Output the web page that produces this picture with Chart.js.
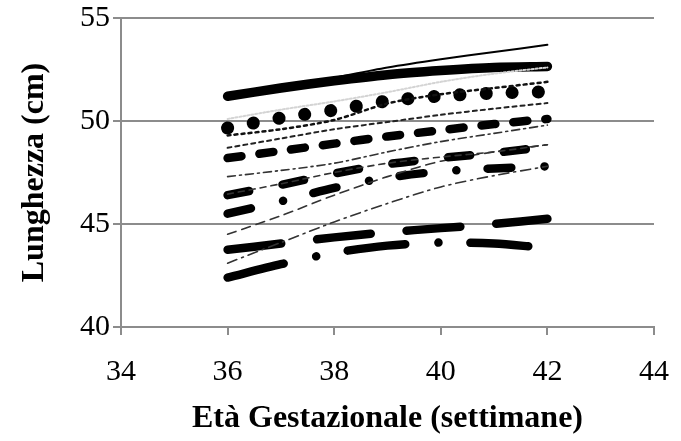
<!DOCTYPE html>
<html>
<head>
<meta charset="utf-8">
<script src="https://cdn.jsdelivr.net/npm/chart.js@4.4.0/dist/chart.umd.min.js"></script>
<style>
	html, body { margin: 0; padding: 0; background: #fff; }
	#wrap { width: 681px; height: 441px; position: relative; }
</style>
</head>
<body>
<div id="wrap"><canvas id="growth-chart"></canvas></div>
<script>
// settimane di gestazione
var weeks = [36, 37, 38, 39, 40, 41, 42];
var weeksShort = [36, 37, 38, 39, 40, 41, 41.8];

// curve di lunghezza (cm), dall'alto in basso
var thinSolid    = [51.1, 51.6, 52.1, 52.6, 53.0, 53.35, 53.7];
var thickSolid   = [51.2, 51.6, 51.95, 52.25, 52.45, 52.6, 52.65];
var faintDotted  = [50.1, 50.55, 50.95, 51.4, 51.9, 52.3, 52.6];
var roundDots    = [49.66, 50.15, 50.53, 50.97, 51.21, 51.35, 51.42];
var smallDotted  = [49.3, 49.6, 50.05, 50.85, 51.3, 51.6, 51.9];
var shortDash    = [48.7, 49.15, 49.6, 49.95, 50.3, 50.6, 50.87];
var thickDash    = [48.2, 48.55, 48.9, 49.25, 49.55, 49.85, 50.1];
var dashDotThin  = [47.3, 47.6, 47.95, 48.5, 49.0, 49.4, 49.8];
var thickDash2   = [46.4, 46.9, 47.45, 47.9, 48.2, 48.45, 48.75];
var thinDash2    = [46.45, 46.95, 47.5, 47.95, 48.25, 48.5, 48.85];
var thickDashDot = [45.5, 46.1, 46.75, 47.25, 47.55, 47.7, 47.8];
var thinDash     = [44.5, 45.4, 46.4, 47.3, 48.05, 48.5, 48.85];
var longDashDot  = [43.1, 44.1, 45.1, 46.0, 46.8, 47.35, 47.8];
var thickLong    = [43.75, 44.05, 44.35, 44.6, 44.8, 45.0, 45.25];
var thickLongDot = [42.4, 43.05, 43.6, 43.95, 44.1, 44.05, 43.88];

function pts(xs, ys) {
	return xs.map(function(x, i) { return { x: x, y: ys[i] }; });
}

function line(xs, ys, width, color, dash) {
	return {
		data: pts(xs, ys),
		borderColor: color,
		borderWidth: width,
		borderDash: dash || [],
		borderCapStyle: 'round',
		borderJoinStyle: 'round',
		pointRadius: 0,
		fill: false,
		tension: 0.3
	};
}

var datasets = [
	line(weeks, faintDotted, 2, '#d4d4d4', [2, 2]),
	line(weeks, thinSolid, 2, '#000', []),
	line(weeks, thickSolid, 9.5, '#000', []),
	line(weeks, smallDotted, 2.5, '#111', [3, 4]),
	line(weeks, roundDots, 13, '#000', [0.1, 26]),
	line(weeks, shortDash, 2, '#222', [4, 4]),
	line(weeks, thickDash, 8.5, '#000', [14, 18]),
	line(weeks, dashDotThin, 1.6, '#333', [8, 4, 2, 4]),
	line(weeks, thinDash2, 1.6, '#333', [6, 5]),
	line(weeks, thickDash2, 8.5, '#000', [22, 34]),
	line(weeks, thinDash, 1.6, '#333', [9, 6]),
	line(weeks, longDashDot, 1.6, '#333', [10, 5, 2, 5]),
	line(weeks, thickDashDot, 8.5, '#000', [24, 33, 0.1, 31]),
	line(weeks, thickLong, 8.5, '#000', [54, 36]),
	line(weeksShort, thickLongDot, 8.5, '#000', [58, 33, 0.1, 32])
];

var axisGrey = '#8c8c8c';
var serif = "'Liberation Serif', 'Times New Roman', serif";

var ctx = document.getElementById('growth-chart').getContext('2d');
var chart = new Chart(ctx, {
	type: 'line',
	data: { datasets: datasets },
	options: {
		responsive: true,
		maintainAspectRatio: false,
		animation: false,
		layout: { padding: { top: 18, right: 27, left: 12, bottom: 0 } },
		plugins: {
			legend: { display: false },
			tooltip: { enabled: false }
		},
		scales: {
			x: {
				type: 'linear',
				min: 34,
				max: 44,
				ticks: {
					stepSize: 2,
					color: '#000',
					padding: 19,
					font: { family: serif, size: 30 }
				},
				grid: {
					drawOnChartArea: false,
					color: axisGrey,
					lineWidth: 2,
					tickLength: 8
				},
				border: { color: axisGrey, width: 2 },
				title: {
					display: true,
					text: 'Età Gestazionale (settimane)',
					color: '#000',
					font: { family: serif, size: 32, weight: 'bold' },
					padding: { top: 0, bottom: 3 }
				},
				afterFit: function(scale) {
					scale.height = 114;
					scale.paddingLeft = 0;
					scale.paddingRight = 0;
				}
			},
			y: {
				min: 40,
				max: 55,
				ticks: {
					stepSize: 5,
					color: '#000',
					padding: 3,
					font: { family: serif, size: 30 }
				},
				grid: {
					color: axisGrey,
					lineWidth: 2,
					tickLength: 8
				},
				border: { color: axisGrey, width: 2 },
				title: {
					display: true,
					text: 'Lunghezza (cm)',
					color: '#000',
					font: { family: serif, size: 32, weight: 'bold' },
					padding: { top: 4, bottom: 4 }
				},
				afterFit: function(scale) {
					scale.width = 109;
					scale.paddingTop = 0;
					scale.paddingBottom = 0;
				}
			}
		}
	}
});
</script>
</body>
</html>
